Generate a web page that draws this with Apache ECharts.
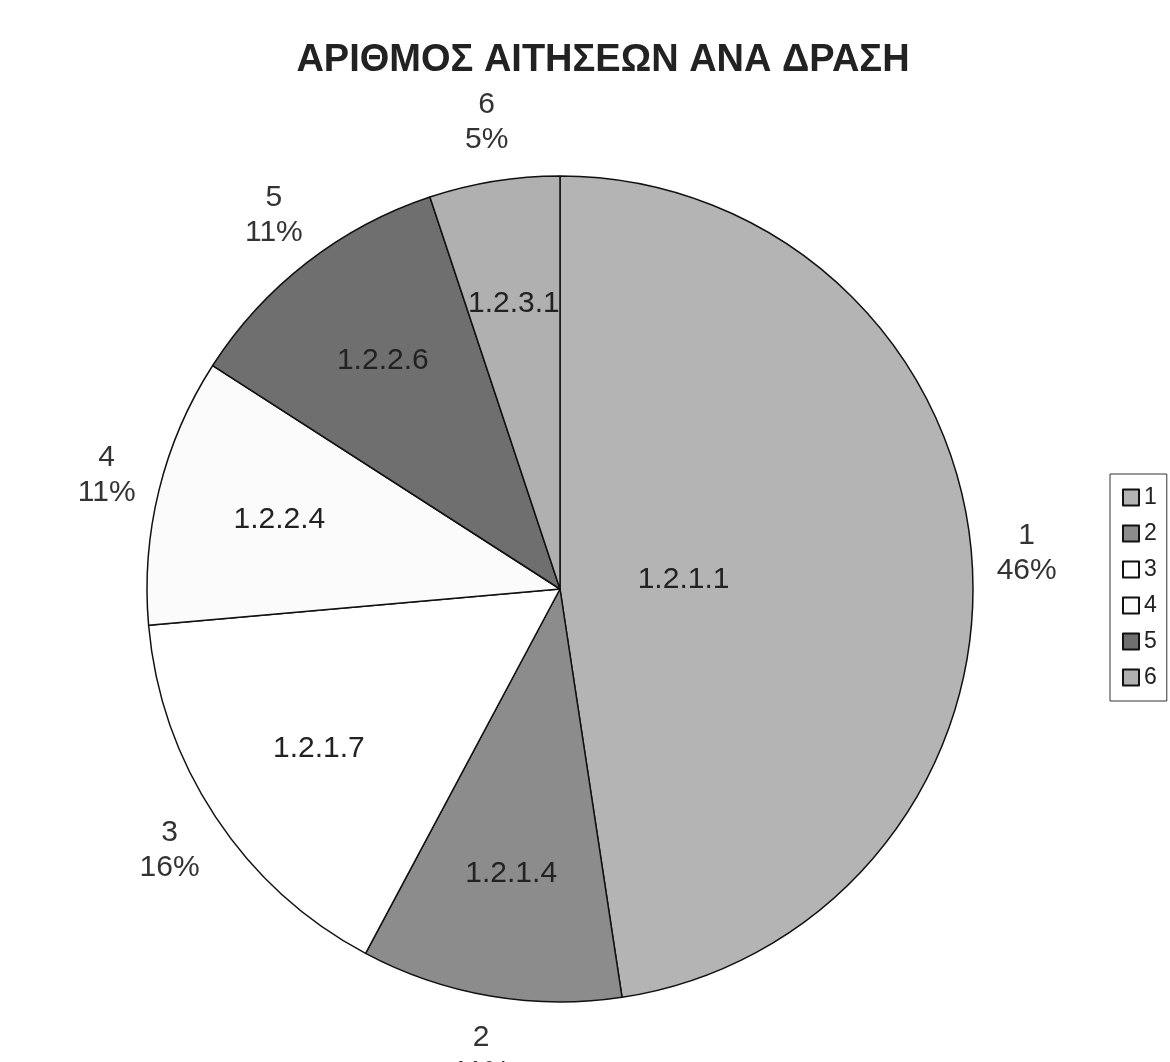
<!DOCTYPE html>
<html lang="el">
<head>
    <meta charset="UTF-8">
    <title>ΑΡΙΘΜΟΣ ΑΙΤΗΣΕΩΝ ΑΝΑ ΔΡΑΣΗ</title>
    <script src="https://cdn.jsdelivr.net/npm/echarts@6/dist/echarts.min.js"></script>
    <style>html,body{margin:0;padding:0;background:#fff;}</style>
</head>
<body>
    <div id="main" style="width:1170px;height:1062px;"></div>
    <script type="text/javascript">
        // data
        var names = ['1', '2', '3', '4', '5', '6'];
        var codes = ['1.2.1.1', '1.2.1.4', '1.2.1.7', '1.2.2.4', '1.2.2.6', '1.2.3.1'];
        var shares = [47.6, 10.2, 15.8, 10.5, 10.8, 5.1];   // slice sizes
        var pctText = ['46%', '11%', '16%', '11%', '11%', '5%']; // percentages as printed

        var colors = ['#b4b4b4', '#8c8c8c', '#ffffff', '#fbfbfb', '#6f6f6f', '#b0b0b0'];
        var FONT = '"Liberation Sans", Arial, sans-serif';
        var cx = 560, cy = 589, R = 413;

        var total = shares.reduce(function (a, b) { return a + b; }, 0);
        var midAngle = function (i) {
            var before = 0;
            for (var k = 0; k < i; k++) before += shares[k];
            return (before + shares[i] / 2) / total * Math.PI * 2;
        };

        var pieData = names.map(function (n, i) {
            return { name: n, value: shares[i], itemStyle: { color: colors[i] } };
        });

        var myChart = echarts.init(document.getElementById('main'));
        var option = {
            backgroundColor: '#fff',
            animation: false,
            title: {
                text: 'ΑΡΙΘΜΟΣ ΑΙΤΗΣΕΩΝ ΑΝΑ ΔΡΑΣΗ',
                left: 598,
                textAlign: 'center',
                top: 37,
                textStyle: { fontFamily: FONT, fontSize: 38, fontWeight: 'bold', color: '#222' }
            },
            legend: {
                orient: 'vertical',
                left: 1110,
                top: 474,
                data: names,
                icon: 'rect',
                itemWidth: 16,
                itemHeight: 16,
                itemGap: 13,
                padding: [12, 10, 12, 12],
                borderColor: '#333',
                borderWidth: 1,
                textStyle: { fontFamily: FONT, fontSize: 23, color: '#222' }
            },
            series: [
                {
                    // the pie itself + outside labels
                    name: 'main',
                    type: 'pie',
                    center: [cx, cy],
                    radius: R,
                    startAngle: 90,
                    clockwise: true,
                    avoidLabelOverlap: false,
                    itemStyle: { borderColor: '#111', borderWidth: 1.5 },
                    emphasis: { disabled: true },
                    label: {
                        show: true,
                        position: 'outside',
                        fontFamily: FONT,
                        fontSize: 30,
                        lineHeight: 35,
                        color: '#333',
                        formatter: function (p) {
                            return p.name + '\n' + pctText[p.dataIndex];
                        }
                    },
                    labelLine: { show: false },
                    labelLayout: function (p) {
                        var a = midAngle(p.dataIndex);
                        var s = Math.sin(a), c = Math.cos(a);
                        var w = p.labelRect.width, h = p.labelRect.height;
                        return {
                            x: cx + (R + 25) * s + w / 2 * s,
                            y: cy - (R + 25) * c - h / 2 * c,
                            align: 'center',
                            verticalAlign: 'middle'
                        };
                    },
                    data: pieData
                },
                {
                    // transparent copy carrying the code labels inside the slices
                    name: 'codes',
                    type: 'pie',
                    center: [cx, cy],
                    radius: R,
                    startAngle: 90,
                    clockwise: true,
                    silent: true,
                    avoidLabelOverlap: false,
                    itemStyle: { color: 'transparent', borderWidth: 0 },
                    emphasis: { disabled: true },
                    label: {
                        show: true,
                        position: 'inside',
                        fontFamily: FONT,
                        fontSize: 30,
                        color: '#222',
                        formatter: function (p) { return codes[p.dataIndex]; }
                    },
                    labelLine: { show: false },
                    labelLayout: function (p) {
                        var a = midAngle(p.dataIndex);
                        var f = p.dataIndex === 0 ? 0.3 : 0.7;
                        return {
                            x: cx + R * f * Math.sin(a),
                            y: cy - R * f * Math.cos(a),
                            align: 'center',
                            verticalAlign: 'middle'
                        };
                    },
                    data: names.map(function (n, i) { return { name: n, value: shares[i] }; })
                }
            ]
        };
        myChart.setOption(option);
    </script>
</body>
</html>
